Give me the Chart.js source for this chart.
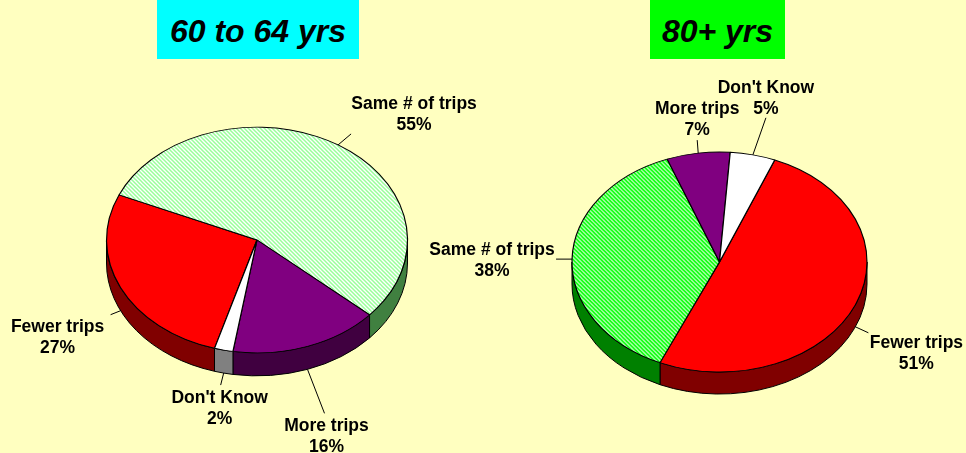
<!DOCTYPE html>
<html lang="en">
<head>
<meta charset="utf-8">
<title>Trips by age group</title>
<script src="https://cdn.jsdelivr.net/npm/chart.js@4.4.0/dist/chart.umd.min.js"></script>
<style>
  html, body { margin: 0; padding: 0; }
  body { width: 966px; height: 453px; background: #FFFFC0; position: relative; overflow: hidden; font-family: Arial, "Liberation Sans", sans-serif; }
  canvas { position: absolute; left: 0; top: 0; }
  .title { position: absolute; top: 0; height: 59px; text-align: center; color: #000;
           font: italic bold 32px Arial, "Liberation Sans", sans-serif; line-height: 62px; }
</style>
</head>
<body>

<div class="title" style="left:157px; width:202px; background:#00FFFF;">60 to 64 yrs</div>
<div class="title" style="left:650px; width:135px; background:#00FF00;">80+ yrs</div>

<canvas id="pieYoung" width="966" height="453"></canvas>
<canvas id="pieOld" width="966" height="453"></canvas>

<script>
// data
const categories = ['Fewer trips', 'Same # of trips', 'More trips', "Don't Know"];
const values60to64 = [27, 55, 16, 2];
const values80plus = [51, 38, 7, 5];

// where each label sits relative to the slice's edge point: [leader end dx, dy, text dx, dy]
const labelPos60to64 = [[-10, 4, -63, 16], [13, -11, 76, -41], [17, 44, 19, 57], [-3, 12, -4, 25]];
const labelPos80plus = [[13, 6, 61, 16], [-16, 0, -80, -9], [-1, -13, -1, -44], [13, -37, 13, -67]];

function hatch(color, width, k) {
    const c = document.createElement('canvas');
    c.width = 4; c.height = 4;
    const g = c.getContext('2d');
    g.fillStyle = '#fff';
    g.fillRect(0, 0, 4, 4);
    g.strokeStyle = color;
    g.lineWidth = width;
    g.beginPath();
    g.moveTo(-1, -1); g.lineTo(5, 5);
    g.moveTo(-1, 3); g.lineTo(1, 5);
    g.moveTo(3, -1); g.lineTo(5, 1);
    g.stroke();
    const p = g.createPattern(c, 'repeat');
    // undo the vertical squash so stripes stay at 45deg
    p.setTransform(new DOMMatrix([1, 0, 0, 1 / k, 0, 0]));
    return p;
}

// tilted pie: squash the top face and draw the rim below it
const tiltPlugin = {
    id: 'tilt',
    beforeDatasetsDraw(chart, args, opts) {
        const ctx = chart.ctx;
        const arcs = chart.getDatasetMeta(0).data;
        const k = opts.ratio, d = opts.depth;
        const TWO_PI = Math.PI * 2;
        arcs.forEach((arc, i) => {
            const p = arc.getProps(['x', 'y', 'startAngle', 'endAngle', 'outerRadius'], true);
            let s = ((p.startAngle % TWO_PI) + TWO_PI) % TWO_PI;
            let e = s + (p.endAngle - p.startAngle);
            [[0, Math.PI], [TWO_PI, TWO_PI + Math.PI]].forEach(([lo, hi]) => {
                const a1 = Math.max(s, lo), a2 = Math.min(e, hi);
                if (a2 <= a1) return;
                ctx.beginPath();
                ctx.ellipse(p.x, p.y, p.outerRadius, p.outerRadius * k, 0, a1, a2, false);
                ctx.ellipse(p.x, p.y + d, p.outerRadius, p.outerRadius * k, 0, a2, a1, true);
                ctx.closePath();
                ctx.fillStyle = opts.sideColors[i];
                ctx.fill();
                ctx.lineWidth = 1;
                ctx.strokeStyle = '#000';
                ctx.stroke();
            });
        });
        const c = arcs[0];
        ctx.save();
        ctx.translate(c.x, c.y);
        ctx.scale(1, k);
        ctx.translate(-c.x, -c.y);
    },
    afterDatasetsDraw(chart) {
        chart.ctx.restore();
    },
    afterDraw(chart, args, opts) {
        const ctx = chart.ctx;
        const arcs = chart.getDatasetMeta(0).data;
        const values = chart.data.datasets[0].data;
        const k = opts.ratio, d = opts.depth;
        ctx.save();
        ctx.font = 'bold 17.5px Arial, "Liberation Sans", sans-serif';
        ctx.fillStyle = '#000';
        ctx.textAlign = 'center';
        ctx.textBaseline = 'middle';
        arcs.forEach((arc, i) => {
            const p = arc.getProps(['x', 'y', 'startAngle', 'endAngle', 'outerRadius'], true);
            const m = (p.startAngle + p.endAngle) / 2;
            const ax = p.x + p.outerRadius * Math.cos(m);
            const ay = p.y + p.outerRadius * k * Math.sin(m) + (Math.sin(m) > 0 ? d : 0);
            const lp = opts.labels[i];
            ctx.beginPath();
            ctx.moveTo(ax, ay);
            ctx.lineTo(ax + lp[0], ay + lp[1]);
            ctx.lineWidth = 1;
            ctx.strokeStyle = '#000';
            ctx.stroke();
            ctx.fillText(chart.data.labels[i], ax + lp[2], ay + lp[3]);
            ctx.fillText(values[i] + '%', ax + lp[2], ay + lp[3] + 21);
        });
        ctx.restore();
    }
};

function makePie(id, values, o) {
    return new Chart(document.getElementById(id), {
        type: 'pie',
        data: {
            labels: categories,
            datasets: [{
                data: values,
                backgroundColor: ['#FF0000', hatch(o.hatchColor, o.hatchWidth, o.ratio), '#800080', '#FFFFFF'],
                borderColor: '#000',
                borderWidth: 1.2
            }]
        },
        options: {
            responsive: false,
            animation: false,
            events: [],
            rotation: o.rotation,
            radius: o.radius,
            layout: { padding: o.padding },
            plugins: {
                legend: { display: false },
                tooltip: { enabled: false },
                tilt: {
                    ratio: o.ratio,
                    depth: o.depth,
                    sideColors: ['#800000', o.sideGreen, '#400040', '#808080'],
                    labels: o.labels
                }
            }
        },
        plugins: [tiltPlugin]
    });
}

makePie('pieYoung', values60to64, {
    rotation: 196.4, radius: 150.5, ratio: 0.75, depth: 23,
    padding: { left: 105, right: 557, top: 88, bottom: 61 },
    hatchColor: '#99FF99', hatchWidth: 1.5, sideGreen: '#408040', labels: labelPos60to64
});

makePie('pieOld', values80plus, {
    rotation: 22, radius: 147.5, ratio: 0.746, depth: 22,
    padding: { left: 569.5, right: 96.5, top: 112, bottom: 41 },
    hatchColor: '#00FF00', hatchWidth: 1.9, sideGreen: '#008000', labels: labelPos80plus
});
</script>
</body>
</html>
